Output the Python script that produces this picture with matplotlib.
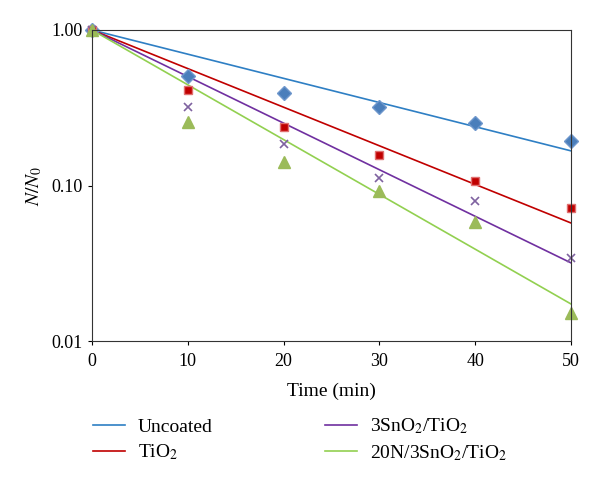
import numpy as np
import matplotlib.pyplot as plt

plt.rcParams['font.family'] = ['Liberation Serif', 'DejaVu Serif']
plt.rcParams['mathtext.fontset'] = 'stix'

# measured points
t = [0, 10, 20, 30, 40, 50]
uncoated = [1.0, 0.506, 0.394, 0.32, 0.252, 0.193]
tio2 = [1.0, 0.41, 0.238, 0.157, 0.107, 0.0716]
sno2 = [1.0, 0.32, 0.185, 0.112, 0.0795, 0.034]
n_sno2 = [1.0, 0.256, 0.142, 0.092, 0.058, 0.0151]

# exponential trend lines (values at t=0 and t=50)
t_fit = [0, 50]
fit_uncoated = [1.0, 0.167]
fit_tio2 = [1.0, 0.0574]
fit_sno2 = [1.0, 0.0318]
fit_n_sno2 = [1.0, 0.0173]

labels = ['Uncoated', r'TiO$_2$', r'3SnO$_2$/TiO$_2$', r'20N/3SnO$_2$/TiO$_2$']

fig = plt.figure(figsize=(6, 4.88), dpi=100)
ax = fig.add_axes([92/600, 1-341/488, 479/600, 311/488])

l1, = ax.plot(t_fit, fit_uncoated, color='#2e7fc4', lw=1.2)
l2, = ax.plot(t_fit, fit_tio2, color='#c00000', lw=1.2)
l3, = ax.plot(t_fit, fit_sno2, color='#7030a0', lw=1.2)
l4, = ax.plot(t_fit, fit_n_sno2, color='#92d050', lw=1.2)

ax.plot(t, uncoated, 'D', color='#4a7ebb', ms=7.5, mec='#6f97cc', clip_on=False)
ax.plot(t, tio2, 's', color='#c00000', ms=6, mec='#e07070', clip_on=False)
ax.plot(t, sno2, 'x', color='#7f62a0', ms=6, mew=1.2, clip_on=False)
ax.plot(t, n_sno2, '^', color='#9bbb59', ms=8.5, clip_on=False)

ax.set_yscale('log')
ax.set_ylim(0.01, 1.0)
ax.set_xlim(0, 50)
ax.set_xticks([0, 10, 20, 30, 40, 50])
ax.set_yticks([0.01, 0.1, 1.0])
ax.set_yticklabels(['0.01', '0.10', '1.00'])
ax.minorticks_off()
ax.tick_params(labelsize=13, direction='out', length=3, pad=4)
ax.tick_params(axis='x', pad=6)
for s in ax.spines.values():
    s.set_color('#333333')
ax.set_xlabel('Time (min)', fontsize=14, labelpad=9)
ax.set_ylabel(r'$N/N_0$', fontsize=14, labelpad=5)

fig.legend([l1, l2, l3, l4], labels, loc='upper left', bbox_to_anchor=(0.125, 0.182),
           ncol=2, frameon=False, fontsize=14, handlelength=1.65, handletextpad=0.67,
           columnspacing=5.79, labelspacing=0.35)
fig.savefig('out.png', dpi=100)
